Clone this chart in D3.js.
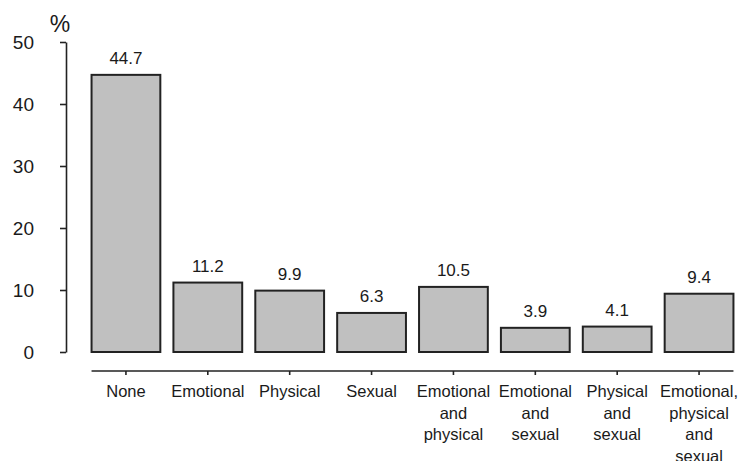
<!DOCTYPE html>
<html>
<head>
<meta charset="utf-8">
<script src="https://cdn.jsdelivr.net/npm/d3@7"></script>
<style>
  body { margin: 0; background: #fff; }
  text { font-family: "Liberation Sans", Arial, sans-serif; fill: #1a1a1a; }
</style>
</head>
<body>
<div id="chart"></div>
<script>
// data
const categories = [
  ["None"],
  ["Emotional"],
  ["Physical"],
  ["Sexual"],
  ["Emotional", "and", "physical"],
  ["Emotional", "and", "sexual"],
  ["Physical", "and", "sexual"],
  ["Emotional,", "physical", "and", "sexual"]
];
const values = [44.7, 11.2, 9.9, 6.3, 10.5, 3.9, 4.1, 9.4];
const yTicks = [0, 10, 20, 30, 40, 50];

const width = 739, height = 461;

const svg = d3.select("#chart")
  .append("svg")
  .attr("width", width)
  .attr("height", height);

const keys = categories.map(c => c.join(" "));

const x = d3.scaleBand()
  .domain(keys)
  .range([85, 740])
  .paddingInner(0.16)
  .paddingOuter(0.08);

const y = d3.scaleLinear()
  .domain([0, 50])
  .range([352, 42]);

// y axis (offset to the left of the bars)
const yAxis = svg.append("g")
  .attr("transform", "translate(66,0)")
  .call(d3.axisLeft(y).tickValues(yTicks).tickSize(6).tickPadding(26).tickSizeOuter(0));
yAxis.select(".domain").attr("stroke", "#222").attr("stroke-width", 1.6);
yAxis.selectAll(".tick line").attr("stroke", "#222").attr("stroke-width", 1.6);
yAxis.selectAll(".tick text")
  .attr("font-size", "19px")
  .attr("dy", "0.36em")
  .style("font-family", '"Liberation Sans", Arial, sans-serif')
  .attr("fill", "#1a1a1a");

svg.append("text")
  .attr("x", 60)
  .attr("y", 32)
  .attr("text-anchor", "middle")
  .attr("font-size", "23px")
  .text("%");

// bars
svg.append("g")
  .selectAll("rect")
  .data(values)
  .join("rect")
  .attr("x", (d, i) => x(keys[i]))
  .attr("y", d => y(d))
  .attr("width", x.bandwidth())
  .attr("height", d => y(0) - y(d))
  .attr("fill", "#c0c0c0")
  .attr("stroke", "#222")
  .attr("stroke-width", 2);

// value labels
svg.append("g")
  .selectAll("text")
  .data(values)
  .join("text")
  .attr("x", (d, i) => x(keys[i]) + x.bandwidth() / 2)
  .attr("y", d => y(d) - 11)
  .attr("text-anchor", "middle")
  .attr("font-size", "17px")
  .text(d => d.toFixed(1));

// x axis, detached below the bars
const xAxisY = 371;
svg.append("line")
  .attr("x1", x(keys[0]))
  .attr("x2", x(keys[keys.length - 1]) + x.bandwidth())
  .attr("y1", xAxisY)
  .attr("y2", xAxisY)
  .attr("stroke", "#222")
  .attr("stroke-width", 1.6);

const xt = svg.append("g")
  .selectAll("g")
  .data(categories)
  .join("g")
  .attr("transform", (d, i) => `translate(${x(keys[i]) + x.bandwidth() / 2},${xAxisY})`);

xt.append("line")
  .attr("y1", 0)
  .attr("y2", 4)
  .attr("stroke", "#222")
  .attr("stroke-width", 1.6);

xt.append("text")
  .attr("text-anchor", "middle")
  .attr("font-size", "16.5px")
  .selectAll("tspan")
  .data(d => d)
  .join("tspan")
  .attr("x", 0)
  .attr("y", (d, i) => 26 + i * 21.5)
  .text(d => d);
</script>
</body>
</html>
